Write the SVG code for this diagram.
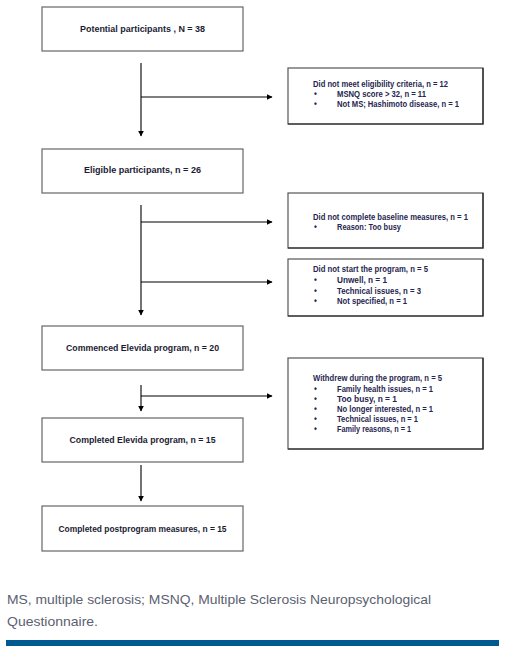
<svg xmlns="http://www.w3.org/2000/svg" width="505" height="652" viewBox="0 0 505 652">
<style>
.box{fill:#fff;stroke:#666;stroke-width:1.2}
.sbox{fill:#fff;stroke:#555;stroke-width:1.2}
.edge{stroke:#222;stroke-width:1.2;fill:none}
.mt{font-family:"Liberation Sans",Arial,sans-serif;font-size:8.8px;font-weight:bold;fill:#1c1c34;text-anchor:middle}
.st{font-family:"Liberation Sans",Arial,sans-serif;font-size:8.2px;font-weight:bold;fill:#1f2650}
.cap{font-family:"Liberation Sans",Arial,sans-serif;font-size:13px;fill:#5b6170}
.conn{stroke:#000;stroke-width:1.1;fill:none;marker-end:url(#ah)}
</style>
<defs>
<marker id="ah" viewBox="0 0 10 10" refX="9" refY="5" markerWidth="6" markerHeight="6" markerUnits="userSpaceOnUse" orient="auto">
<path d="M0,0 L10,5 L0,10 z" fill="#000"/>
</marker>
</defs>
<rect width="505" height="652" fill="#fff"/>

<g id="connectors">
<line class="conn" x1="141" y1="63" x2="141" y2="136"/>
<line class="conn" x1="141" y1="97" x2="272" y2="97"/>
<line class="conn" x1="141" y1="205" x2="141" y2="315"/>
<line class="conn" x1="141" y1="222" x2="272" y2="222"/>
<line class="conn" x1="141" y1="282" x2="272" y2="282"/>
<line class="conn" x1="141" y1="385" x2="141" y2="411"/>
<line class="conn" x1="141" y1="396" x2="272" y2="396"/>
<line class="conn" x1="141" y1="465" x2="141" y2="501"/>
</g>

<g id="n1">
<rect class="box" x="42" y="7" width="201" height="44"/>
<text class="mt" x="142.5" y="32" textLength="125" lengthAdjust="spacingAndGlyphs">Potential participants , N = 38</text>
</g>

<g id="n2">
<rect class="sbox" x="288" y="68" width="195" height="56"/>
<path class="edge" d="M483,68 V124 H288"/>
<text class="st" x="313" y="87" textLength="135" lengthAdjust="spacingAndGlyphs">Did not meet eligibility criteria, n = 12</text>
<text class="st" x="314" y="97">•</text>
<text class="st" x="337" y="97" textLength="89" lengthAdjust="spacingAndGlyphs">MSNQ score &gt; 32, n = 11</text>
<text class="st" x="314" y="107">•</text>
<text class="st" x="337" y="107" textLength="122" lengthAdjust="spacingAndGlyphs">Not MS; Hashimoto disease, n = 1</text>
</g>

<g id="n3">
<rect class="box" x="42" y="149" width="201" height="44"/>
<text class="mt" x="142.5" y="173" textLength="117" lengthAdjust="spacingAndGlyphs">Eligible participants, n = 26</text>
</g>

<g id="n4">
<rect class="sbox" x="288" y="193" width="195" height="55"/>
<path class="edge" d="M483,193 V248 H288"/>
<text class="st" x="313" y="220" textLength="155" lengthAdjust="spacingAndGlyphs">Did not complete baseline measures, n = 1</text>
<text class="st" x="314" y="230">•</text>
<text class="st" x="337" y="230" textLength="64" lengthAdjust="spacingAndGlyphs">Reason: Too busy</text>
</g>

<g id="n5">
<rect class="sbox" x="288" y="259" width="195" height="57"/>
<path class="edge" d="M483,259 V316 H288"/>
<text class="st" x="313" y="272" textLength="115" lengthAdjust="spacingAndGlyphs">Did not start the program, n = 5</text>
<text class="st" x="314" y="283">•</text>
<text class="st" x="337" y="283" textLength="50" lengthAdjust="spacingAndGlyphs">Unwell, n = 1</text>
<text class="st" x="314" y="294">•</text>
<text class="st" x="337" y="294" textLength="84" lengthAdjust="spacingAndGlyphs">Technical issues, n = 3</text>
<text class="st" x="314" y="304">•</text>
<text class="st" x="337" y="304" textLength="70" lengthAdjust="spacingAndGlyphs">Not specified, n = 1</text>
</g>

<g id="n6">
<rect class="box" x="42" y="326" width="201" height="44"/>
<text class="mt" x="142.5" y="351" textLength="153" lengthAdjust="spacingAndGlyphs">Commenced Elevida program, n = 20</text>
</g>

<g id="n7">
<rect class="sbox" x="288" y="358" width="195" height="91"/>
<path class="edge" d="M483,358 V449 H288"/>
<text class="st" x="313" y="381" textLength="129" lengthAdjust="spacingAndGlyphs">Withdrew during the program, n = 5</text>
<text class="st" x="314" y="392">•</text>
<text class="st" x="337" y="392" textLength="96" lengthAdjust="spacingAndGlyphs">Family health issues, n = 1</text>
<text class="st" x="314" y="402">•</text>
<text class="st" x="337" y="402" textLength="60" lengthAdjust="spacingAndGlyphs">Too busy, n = 1</text>
<text class="st" x="314" y="412">•</text>
<text class="st" x="337" y="412" textLength="96" lengthAdjust="spacingAndGlyphs">No longer interested, n = 1</text>
<text class="st" x="314" y="422">•</text>
<text class="st" x="337" y="422" textLength="81" lengthAdjust="spacingAndGlyphs">Technical issues, n = 1</text>
<text class="st" x="314" y="432">•</text>
<text class="st" x="337" y="432" textLength="74" lengthAdjust="spacingAndGlyphs">Family reasons, n = 1</text>
</g>

<g id="n8">
<rect class="box" x="42" y="418" width="201" height="44"/>
<text class="mt" x="142.5" y="443" textLength="146" lengthAdjust="spacingAndGlyphs">Completed Elevida program, n = 15</text>
</g>

<g id="n9">
<rect class="box" x="42" y="506" width="201" height="45"/>
<text class="mt" x="142.5" y="532" textLength="168" lengthAdjust="spacingAndGlyphs">Completed postprogram measures, n = 15</text>
</g>

<g id="caption">
<text class="cap" x="7" y="604" textLength="424" lengthAdjust="spacingAndGlyphs">MS, multiple sclerosis; MSNQ, Multiple Sclerosis Neuropsychological</text>
<text class="cap" x="7" y="626" textLength="91" lengthAdjust="spacingAndGlyphs">Questionnaire.</text>
<rect x="6" y="640" width="493" height="6" fill="#005a92"/>
</g>
</svg>
